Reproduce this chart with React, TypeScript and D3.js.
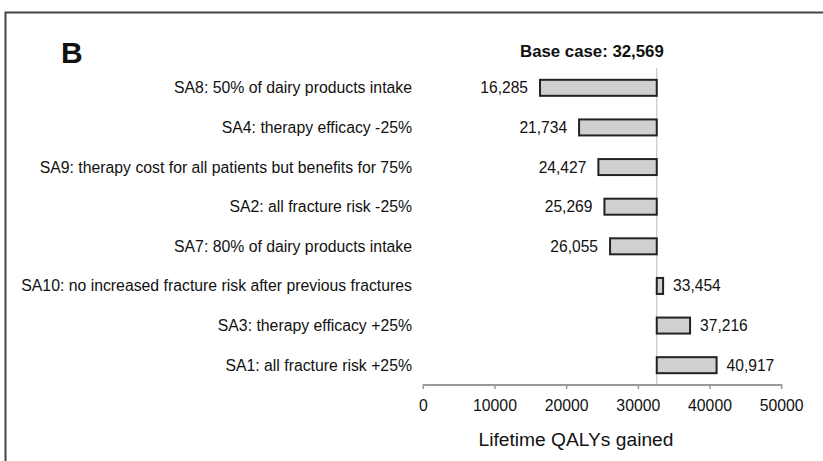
import React from "react";
import * as d3 from "d3";

const categories = [
  "SA8: 50% of dairy products intake",
  "SA4: therapy efficacy -25%",
  "SA9: therapy cost for all patients but benefits for 75%",
  "SA2: all fracture risk -25%",
  "SA7: 80% of dairy products intake",
  "SA10: no increased fracture risk after previous fractures",
  "SA3: therapy efficacy +25%",
  "SA1: all fracture risk +25%",
];
const values = [16285, 21734, 24427, 25269, 26055, 33454, 37216, 40917];
const baseCase = 32569;
const xTicks = [0, 10000, 20000, 30000, 40000, 50000];
const xTitle = "Lifetime QALYs gained";
const panelLabel = "B";

const W = 823;
const H = 461;
const FONT = "'Liberation Sans', Arial, Helvetica, sans-serif";

export default function App() {
  const x = d3.scaleLinear().domain([0, 50000]).range([423.3, 781.7]);
  const y = d3.scaleBand<string>().domain(categories).range([68, 385]).paddingInner(0.6).paddingOuter(0.3);
  const step = (385 - 68) / categories.length;
  const center = (c: string) => 68 + step * (categories.indexOf(c) + 0.5);
  const barH = 16;
  const fmt = d3.format(",");
  const bx = x(baseCase);
  const axisY = 385;

  return (
    <svg
      width={W}
      height={H}
      style={{ position: "absolute", left: 0, top: 0, background: "#fff" }}
      fontFamily={FONT}
    >
      <rect x={0} y={0} width={W} height={H} fill="#fff" />
      <rect x={5.5} y={12.5} width={W + 20} height={H + 20} fill="none" stroke="#444" strokeWidth={2} />
      <text x={61} y={63} fontSize={30} fontWeight="bold" fill="#111">{panelLabel}</text>
      <text x={bx + 7} y={57} fontSize={16.8} fontWeight="bold" textAnchor="end" fill="#111">
        {`Base case: ${fmt(baseCase)}`}
      </text>

      {/* base line */}
      <line x1={bx} x2={bx} y1={68} y2={axisY} stroke="#bbb" strokeWidth={1} />

      {/* bars */}
      {categories.map((c, i) => {
        const v = values[i];
        const x0 = Math.min(x(v), bx);
        const x1 = Math.max(x(v), bx);
        const cy = center(c);
        const left = v < baseCase;
        return (
          <g key={c}>
            <text x={412} y={cy} fontSize={15.8} textAnchor="end" dominantBaseline="central" fill="#111">{c}</text>
            <rect x={x0} y={cy - barH / 2} width={x1 - x0} height={barH} fill="#d0d0d0" stroke="#222" strokeWidth={2} />
            <text
              x={left ? x0 - 12 : x1 + 10}
              y={cy}
              fontSize={15.6}
              textAnchor={left ? "end" : "start"}
              dominantBaseline="central"
              fill="#111"
            >
              {fmt(v)}
            </text>
          </g>
        );
      })}

      {/* x axis */}
      <line x1={x(0)} x2={x(50000)} y1={axisY} y2={axisY} stroke="#999" strokeWidth={2} />
      {xTicks.map((t) => (
        <g key={t}>
          <line x1={x(t)} x2={x(t)} y1={axisY - 1} y2={axisY + 4} stroke="#999" strokeWidth={1.5} />
          <text x={x(t)} y={410.5} fontSize={15.8} textAnchor="middle" fill="#111">{t}</text>
        </g>
      ))}
      <text x={576} y={445.5} fontSize={19.2} textAnchor="middle" fill="#111">{xTitle}</text>
    </svg>
  );
}
